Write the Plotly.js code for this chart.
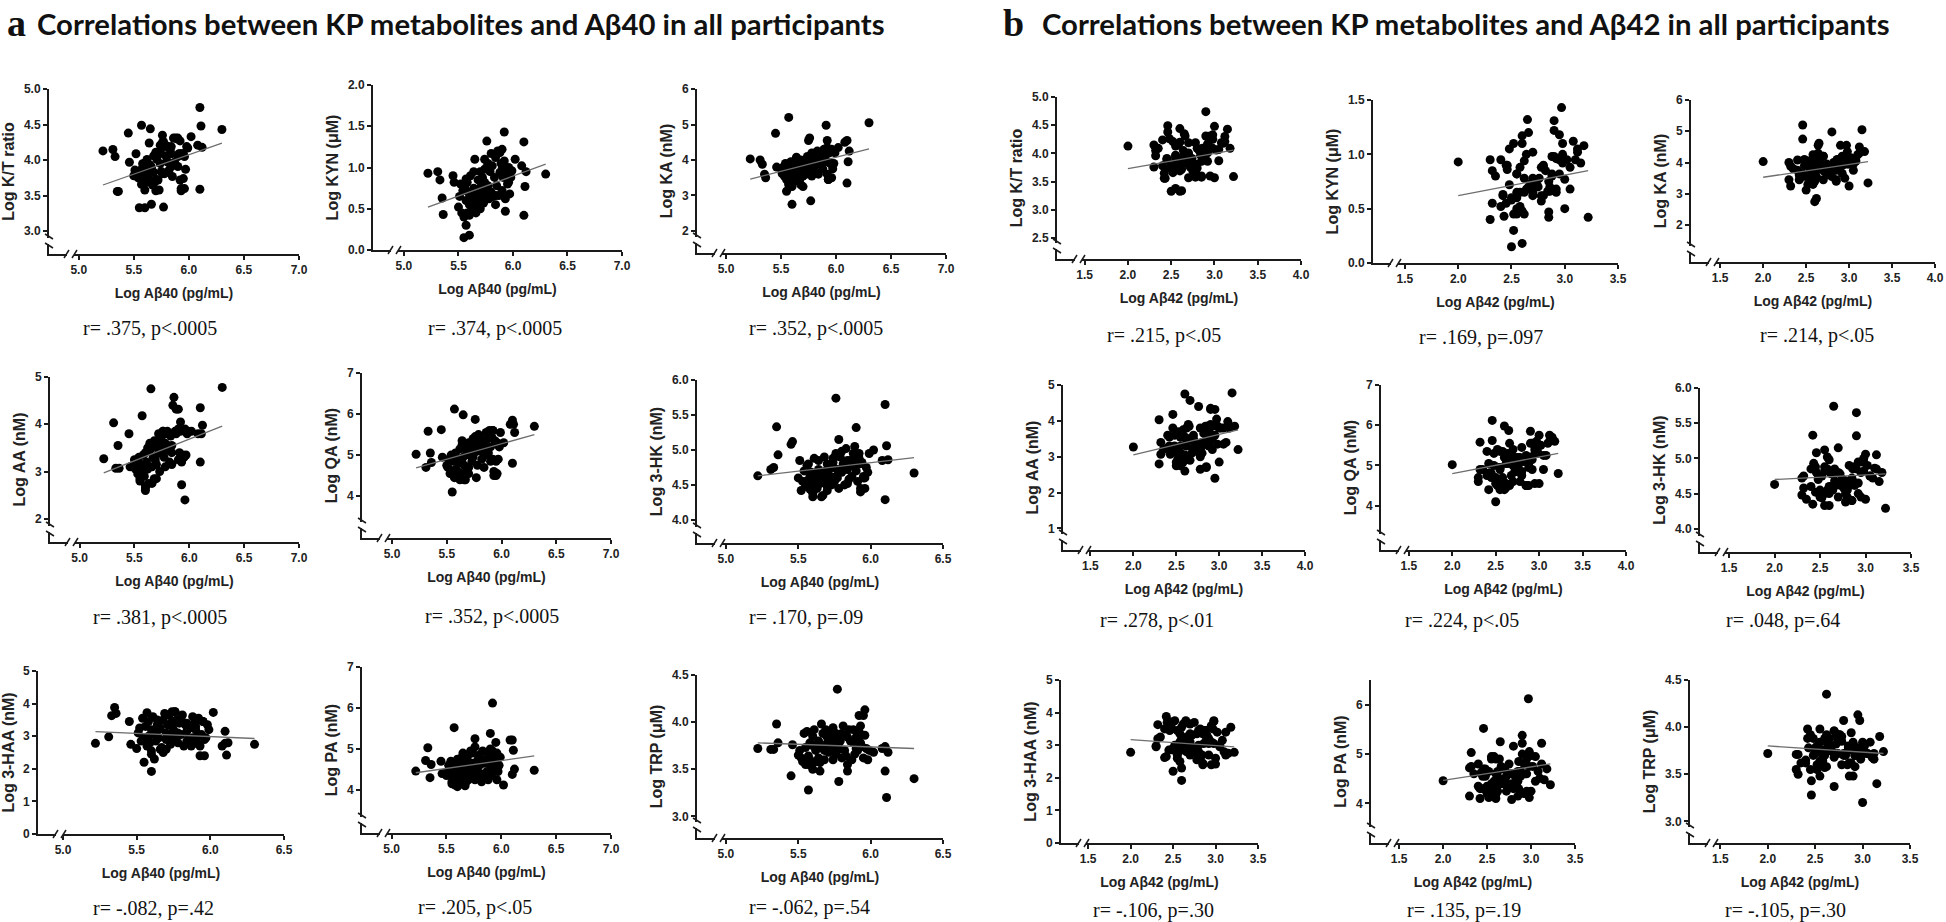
<!DOCTYPE html>
<html><head><meta charset="utf-8">
<script src="https://cdn.plot.ly/plotly-3.0.1.min.js"></script>
<style>html,body{margin:0;padding:0;background:#fff}#chart{width:1946px;height:922px}</style>
</head><body><div id="chart"></div>
<script>
// ---- Participant-level values (same participants in every panel) ----
const logAb40 = [5.22,6.30,5.31,5.33,5.35,5.36,5.45,5.46,5.57,5.65,
  6.10,6.11,6.12,6.08,6.10,6.02,5.93,5.92,5.76,5.90,
  5.55,5.60,5.57,5.66,5.77,5.96,5.95,5.78,5.84,
  5.50,5.51,5.52,5.53,5.54,5.55,5.56,5.57,5.58,5.58,
  5.59,5.60,5.60,5.61,5.62,5.62,5.63,5.64,5.65,5.66,
  5.67,5.68,5.68,5.69,5.70,5.70,5.71,5.72,5.72,5.73,
  5.74,5.74,5.75,5.76,5.76,5.77,5.78,5.79,5.80,5.80,
  5.81,5.82,5.83,5.84,5.85,5.86,5.87,5.88,5.88,5.89,
  5.90,5.90,5.91,5.92,5.92,5.93,5.94,5.95,5.96,5.97,
  5.98,5.99,5.60,5.64,5.70,5.74,5.84];
const logAb42 = [2.00,3.15,2.30,2.32,2.42,2.43,2.46,2.55,2.46,2.60,
  2.90,3.00,3.10,3.12,3.22,2.98,2.85,2.97,2.65,2.90,
  2.50,2.60,2.52,2.55,2.62,2.95,2.80,2.70,2.86,
  2.40,2.58,2.35,2.62,2.48,2.30,2.72,2.55,2.88,2.52,
  2.66,2.32,2.78,2.45,2.60,2.92,2.50,2.85,2.55,2.68,
  2.42,2.82,2.58,2.75,2.95,2.50,2.70,2.62,3.05,2.78,
  2.55,2.88,2.64,2.98,2.72,2.48,2.80,3.02,2.60,2.86,
  2.70,2.92,2.58,3.08,2.76,2.66,2.84,2.95,2.62,3.12,
  2.74,2.90,2.80,2.55,3.18,2.70,2.98,2.88,2.64,3.05,
  2.78,2.92,2.85,2.40,3.00,2.52,2.45];
const logKT = [4.13,4.43,4.15,4.05,3.56,3.56,4.38,3.97,4.49,4.44,
  4.74,4.48,4.18,4.21,3.59,4.33,3.60,4.27,4.35,4.31,
  3.33,3.33,3.66,3.38,3.34,3.60,3.74,4.19,4.09,
  3.78,3.86,4.09,3.78,3.75,3.76,3.76,3.87,3.95,3.76,
  3.85,3.96,3.68,3.89,3.69,4.01,3.77,3.86,3.93,3.90,
  3.65,4.06,3.83,3.69,4.11,3.73,4.01,3.72,4.07,3.58,
  4.13,3.95,3.84,4.25,3.81,4.26,3.81,4.06,4.20,3.99,
  3.97,3.86,4.15,4.19,3.77,4.31,3.97,4.31,3.93,4.30,
  3.91,4.05,4.09,3.72,4.09,3.57,4.09,4.09,4.05,3.87,
  4.19,4.17,3.58,4.24,3.57,4.21,3.91];
const logKYN = [0.93,0.92,0.95,0.85,0.63,0.43,0.90,0.82,0.86,1.10,
  1.31,0.77,0.95,1.02,0.42,1.10,0.47,1.43,1.32,1.22,
  0.15,0.18,0.30,0.45,0.78,0.82,0.90,0.65,0.66,
  0.52,0.65,0.80,0.45,0.72,0.40,0.75,0.60,0.82,0.45,
  0.70,0.55,0.62,0.90,0.48,0.68,0.58,0.75,0.50,0.73,
  0.62,0.85,0.52,0.70,0.95,0.60,0.78,0.65,0.88,0.57,
  0.82,0.98,0.68,1.00,0.72,1.05,0.62,0.95,1.17,0.70,
  1.02,0.65,0.88,1.12,0.78,1.20,0.66,1.18,0.94,1.05,
  0.72,0.98,0.88,0.65,1.08,0.62,0.92,0.80,1.00,0.68,
  0.88,0.96,0.42,0.95,0.50,1.10,0.55];
const logKA = [4.03,5.05,4.00,3.88,3.60,3.50,4.75,3.80,5.20,4.00,
  4.55,3.95,4.25,4.50,3.35,4.35,3.45,4.55,4.62,4.00,
  3.12,2.75,3.30,3.40,2.85,3.50,3.90,4.20,4.10,
  3.75,3.62,3.80,3.55,3.90,3.45,3.70,3.35,3.85,3.60,
  3.95,3.25,3.70,3.65,3.40,3.90,3.60,3.75,3.55,3.85,
  3.45,4.00,3.30,3.65,3.95,3.55,3.75,3.80,3.95,3.60,
  3.85,4.10,4.55,3.95,3.70,4.10,3.55,4.15,4.05,3.80,
  4.20,3.65,4.25,4.05,3.90,4.10,3.85,4.20,3.75,4.30,
  3.95,4.05,4.98,3.60,4.35,3.45,4.20,3.90,4.30,3.75,
  3.90,4.20,3.40,4.08,3.25,4.05,3.60];
const logAA = [3.27,4.78,4.03,3.07,3.55,3.07,3.80,3.10,4.18,4.75,
  4.35,3.80,3.98,3.80,3.20,3.85,2.72,4.05,3.85,4.32,
  2.85,2.60,2.95,2.75,3.30,2.40,3.30,3.60,3.55,
  3.25,3.05,3.20,2.95,3.30,2.80,3.15,3.00,3.35,3.10,
  2.90,3.40,2.65,3.20,3.05,3.50,2.75,3.45,3.55,3.10,
  3.30,3.65,2.85,3.25,3.60,3.15,3.50,3.40,3.80,3.00,
  3.55,3.70,3.50,3.85,3.35,3.60,3.10,3.80,3.55,3.85,
  3.45,3.20,3.75,3.40,4.40,4.57,3.85,4.32,3.80,3.85,
  3.25,3.90,3.40,3.30,3.85,3.20,3.35,3.30,3.90,3.35,
  3.80,3.85,2.70,3.60,2.85,3.70,3.15];
const logQA = [5.02,5.70,4.70,5.58,5.05,4.82,5.62,4.95,6.12,5.98,
  5.85,5.75,5.55,5.75,4.80,5.30,4.50,5.60,5.87,5.55,
  4.10,4.45,4.50,4.40,4.45,4.55,4.85,5.20,5.10,
  4.75,4.70,4.90,4.55,5.00,4.60,4.85,4.45,5.05,4.65,
  4.50,4.90,4.60,4.80,4.40,5.15,4.55,5.25,4.95,4.75,
  4.40,5.10,4.60,5.20,5.30,4.70,5.00,5.15,5.25,4.85,
  5.35,4.95,5.05,5.45,5.20,5.30,4.75,5.50,5.20,5.10,
  5.40,4.90,5.35,5.25,5.00,5.55,5.15,5.40,5.05,5.60,
  4.85,5.20,5.45,4.90,5.60,4.60,5.35,4.50,5.30,4.90,
  5.20,5.55,4.50,5.35,4.55,5.40,4.70];
const log3HK = [4.63,4.67,4.72,4.75,5.33,4.93,5.08,5.12,4.80,4.60,
  5.65,5.06,4.86,4.85,4.29,5.00,4.40,4.95,5.74,5.32,
  4.55,4.33,4.50,4.33,4.60,4.45,4.60,5.15,4.85,
  4.60,4.85,4.42,4.55,4.70,4.48,4.78,4.50,4.62,4.44,
  4.68,4.58,4.38,4.88,4.50,4.65,4.45,4.72,4.52,4.62,
  4.35,4.90,4.55,4.70,4.80,4.48,4.65,4.58,4.75,4.50,
  4.82,4.88,4.55,4.95,4.62,4.72,4.45,4.90,4.98,4.68,
  4.80,4.50,5.02,4.72,4.58,4.85,4.62,4.95,4.78,5.05,
  4.70,4.85,4.55,4.88,4.80,4.45,4.82,4.62,4.60,4.75,
  4.68,4.95,4.40,4.85,4.42,4.75,4.52];
const log3HAA = [2.78,2.75,2.98,3.63,3.88,3.70,3.45,2.75,3.72,3.20,
  3.15,2.42,2.80,2.70,2.78,3.73,2.40,3.50,3.75,3.30,
  2.20,1.92,2.90,2.60,3.00,2.40,3.45,3.10,3.40,
  2.62,3.10,3.25,2.85,3.55,2.95,3.30,2.70,3.45,3.00,
  2.80,3.20,2.55,3.60,2.30,3.05,2.85,3.35,2.95,3.25,
  2.65,3.50,2.50,3.70,3.10,2.90,3.35,3.65,3.00,2.75,
  3.45,3.30,3.20,3.75,2.95,3.50,2.80,3.40,3.55,3.05,
  3.65,2.70,3.35,3.15,2.90,3.25,2.70,3.60,2.95,3.40,
  2.85,3.20,3.00,2.75,3.55,2.70,3.05,3.45,2.90,2.95,
  3.35,3.20,2.45,3.50,2.60,3.75,2.85];
const logPA = [4.46,4.48,4.72,5.03,4.30,4.62,4.70,4.40,5.52,4.90,
  5.22,4.97,4.51,5.22,4.38,4.12,4.65,6.12,5.25,5.38,
  4.20,4.10,4.20,4.15,4.55,4.25,5.16,4.70,4.30,
  4.35,4.45,4.60,4.40,4.70,4.15,4.55,4.28,4.65,4.12,
  4.40,4.75,4.08,4.55,4.18,4.60,4.25,4.45,4.35,4.70,
  4.10,4.55,4.20,4.80,4.60,4.35,4.50,4.65,4.95,4.40,
  4.90,4.60,4.45,5.05,4.25,4.55,4.30,4.75,4.60,4.85,
  4.40,4.20,4.95,4.65,4.35,4.75,4.45,4.90,4.25,4.80,
  4.60,5.00,4.35,4.95,4.70,4.50,4.75,4.55,4.90,4.45,
  4.60,4.80,4.15,4.80,4.25,4.65,4.30];
const logTRP = [3.72,3.40,3.71,3.71,3.98,3.78,3.43,3.76,3.28,3.57,
  3.48,3.20,3.68,3.72,3.74,3.68,3.78,4.07,3.88,3.82,
  3.73,3.76,3.55,3.98,4.35,4.13,4.07,3.37,3.48,
  3.65,3.70,3.62,3.58,3.88,3.55,3.90,3.64,3.78,3.60,
  3.76,3.50,3.85,3.92,3.70,3.58,3.72,3.80,3.48,3.74,
  3.88,3.70,3.60,3.92,3.75,3.78,3.68,3.84,3.72,3.90,
  3.60,3.94,3.75,3.66,3.82,3.70,3.72,3.80,3.88,3.62,
  3.96,3.70,3.64,3.84,3.92,3.80,3.60,3.78,3.92,3.66,
  3.72,3.84,3.70,3.84,3.90,3.96,3.74,3.62,3.86,3.72,
  3.60,3.70,3.75,3.62,3.84,3.80,3.55];

// ---- Labels, statistics and regression-line end values ----
const yTitles = ['Log K/T ratio','Log KYN (μM)','Log KA (nM)','Log AA (nM)','Log QA (nM)',
                 'Log 3-HK (nM)','Log 3-HAA (nM)','Log PA (nM)','Log TRP (μM)'];
const xTitleAb40 = 'Log Aβ40 (pg/mL)';
const xTitleAb42 = 'Log Aβ42 (pg/mL)';
const rTextAb40 = ['r= .375, p<.0005','r= .374, p<.0005','r= .352, p<.0005',
                   'r= .381, p<.0005','r= .352, p<.0005','r= .170, p=.09',
                   'r= -.082, p=.42','r= .205, p<.05','r= -.062, p=.54'];
const rTextAb42 = ['r= .215, p<.05','r= .169, p=.097','r= .214, p<.05',
                   'r= .278, p<.01','r= .224, p<.05','r= .048, p=.64',
                   'r= -.106, p=.30','r= .135, p=.19','r= -.105, p=.30'];
const fitAb40Start = [3.65,0.52,3.46,2.97,4.69,4.63,3.14,4.42,3.78];
const fitAb40End   = [4.24,1.04,4.31,3.96,5.50,4.89,2.93,4.83,3.72];
const fitAb42Start = [3.73,0.62,3.53,3.05,4.80,4.70,3.17,4.47,3.80];
const fitAb42End   = [4.06,0.85,4.03,3.75,5.30,4.78,2.95,4.80,3.72];
const titleA = 'Correlations between KP metabolites and Aβ40 in all participants';
const titleB = 'Correlations between KP metabolites and Aβ42 in all participants';

// ---- Layout geometry (pixels) ----
const W = 1946, H = 922;
const xt40a = [5,5.5,6,6.5,7], xt40b = [5,5.5,6,6.5];
const xt42a = [1.5,2,2.5,3,3.5,4], xt42b = [1.5,2,2.5,3,3.5];
const boxesA = [
 {L:49, R:299,T:89, B:254,xr:[4.73,7.0], xt:xt40a,yr:[2.68,5.0],yt:[3,3.5,4,4.5,5],yf:'.1f',yb:true, ax:150,ay:328},
 {L:373,R:622,T:85, B:250,xr:[4.716,7.0],xt:xt40a,yr:[0,2],     yt:[0,0.5,1,1.5,2],yf:'.1f',yb:false,ax:495,ay:328},
 {L:697,R:946,T:89, B:253,xr:[4.736,7.0],xt:xt40a,yr:[1.38,6],  yt:[2,3,4,5,6],    yf:'d',  yb:true, ax:816,ay:328},
 {L:50, R:299,T:377,B:542,xr:[4.73,7.0], xt:xt40a,yr:[1.51,5],  yt:[2,3,4,5],      yf:'d',  yb:true, ax:160,ay:617},
 {L:362,R:611,T:373,B:538,xr:[4.726,7.0],xt:xt40a,yr:[2.98,7],  yt:[4,5,6,7],      yf:'d',  yb:true, ax:492,ay:616},
 {L:697,R:943,T:380,B:543,xr:[4.8,6.5],  xt:xt40b,yr:[3.67,6],  yt:[4,4.5,5,5.5,6],yf:'.1f',yb:true, ax:806,ay:617},
 {L:38, R:284,T:671,B:834,xr:[4.83,6.5], xt:xt40b,yr:[0,5],     yt:[0,1,2,3,4,5],  yf:'d',  yb:false,ax:153,ay:908},
 {L:362,R:611,T:667,B:833,xr:[4.73,7.0], xt:xt40a,yr:[2.95,7],  yt:[4,5,6,7],      yf:'d',  yb:true, ax:475,ay:907},
 {L:697,R:943,T:675,B:838,xr:[4.8,6.5],  xt:xt40b,yr:[2.77,4.5],yt:[3,3.5,4,4.5],  yf:'.1f',yb:true, ax:809,ay:907}
];
const boxesB = [
 {L:1057,R:1301,T:97, B:259,xr:[1.18,4.0],xt:xt42a,yr:[2.13,5],yt:[2.5,3,3.5,4,4.5,5],yf:'.1f',yb:true, ax:1164,ay:335},
 {L:1373,R:1618,T:100,B:263,xr:[1.2,3.5], xt:xt42b,yr:[0,1.5], yt:[0,0.5,1,1.5],     yf:'.1f',yb:false,ax:1481,ay:338},
 {L:1691,R:1935,T:100,B:262,xr:[1.16,4.0],xt:xt42a,yr:[0.82,6],yt:[2,3,4,5,6],       yf:'d',  yb:true, ax:1817,ay:335},
 {L:1063,R:1305,T:385,B:550,xr:[1.18,4.0],xt:xt42a,yr:[0.4,5], yt:[1,2,3,4,5],       yf:'d',  yb:true, ax:1157,ay:620},
 {L:1381,R:1626,T:385,B:550,xr:[1.18,4.0],xt:xt42a,yr:[2.9,7], yt:[4,5,6,7],         yf:'d',  yb:true, ax:1462,ay:620},
 {L:1700,R:1911,T:388,B:552,xr:[1.18,3.5],xt:xt42b,yr:[3.67,6],yt:[4,4.5,5,5.5,6],   yf:'.1f',yb:true, ax:1783,ay:620},
 {L:1061,R:1258,T:680,B:843,xr:[1.18,3.5],xt:xt42b,yr:[0,5],   yt:[0,1,2,3,4,5],     yf:'d',  yb:false,ax:1153,ay:910},
 {L:1371,R:1575,T:680,B:843,xr:[1.18,3.5],xt:xt42b,yr:[3.2,6.5],yt:[4,5,6],          yf:'d',  yb:true, ax:1464,ay:910},
 {L:1690,R:1910,T:680,B:843,xr:[1.18,3.5],xt:xt42b,yr:[2.77,4.5],yt:[3,3.5,4,4.5],   yf:'.1f',yb:true, ax:1785,ay:910}
];

const metabolites = [logKT, logKYN, logKA, logAA, logQA, log3HK, log3HAA, logPA, logTRP];
const panels = [];
for (let i = 0; i < 9; i++) panels.push({x: logAb40, y: metabolites[i], xTitle: xTitleAb40, yTitle: yTitles[i], r: rTextAb40[i], f0: fitAb40Start[i], f1: fitAb40End[i], box: boxesA[i]});
for (let i = 0; i < 9; i++) panels.push({x: logAb42, y: metabolites[i], xTitle: xTitleAb42, yTitle: yTitles[i], r: rTextAb42[i], f0: fitAb42Start[i], f1: fitAb42End[i], box: boxesB[i]});

const px = v => v / W, py = v => 1 - v / H;
const axisColor = '#1a1a1a';
const tickFont = {family: 'Liberation Sans, Arial, sans-serif', size: 12, weight: 'bold', color: '#222'};
const traces = [], shapes = [], annotations = [];
const layout = {
  width: W, height: H, margin: {l: 0, r: 0, t: 0, b: 0},
  paper_bgcolor: '#fff', plot_bgcolor: 'rgba(0,0,0,0)', showlegend: false
};

panels.forEach((p, k) => {
  const n = k + 1, sfx = n === 1 ? '' : String(n), b = p.box;
  traces.push({type: 'scatter', mode: 'markers', x: p.x, y: p.y, xaxis: 'x' + sfx, yaxis: 'y' + sfx,
    marker: {color: '#000', size: 9, line: {width: 0}}, hoverinfo: 'skip', cliponaxis: false});
  const xmin = Math.min(...p.x), xmax = Math.max(...p.x);
  traces.push({type: 'scatter', mode: 'lines', x: [xmin, xmax], y: [p.f0, p.f1], xaxis: 'x' + sfx, yaxis: 'y' + sfx,
    line: {color: '#6e6e6e', width: 1.3}, hoverinfo: 'skip'});
  const common = {showline: true, linecolor: axisColor, linewidth: 2, ticks: 'outside', ticklen: 4, tickwidth: 2,
    tickcolor: axisColor, showgrid: false, zeroline: false, tickfont: tickFont, fixedrange: true, tickmode: 'array'};
  layout['xaxis' + sfx] = Object.assign({}, common, {
    domain: [px(b.L), px(b.R)], anchor: 'y' + sfx, range: b.xr, tickvals: b.xt, tickformat: '.1f',
    title: {text: p.xTitle, standoff: 12, font: {family: 'Liberation Sans, Arial, sans-serif', size: 14, weight: 'bold', color: '#222'}}
  });
  layout['yaxis' + sfx] = Object.assign({}, common, {
    domain: [py(b.B), py(b.T)], anchor: 'x' + sfx, range: b.yr, tickvals: b.yt, tickformat: b.yf,
    title: {text: p.yTitle, standoff: 5, font: {family: 'Liberation Sans, Arial, sans-serif', size: 16, weight: 'bold', color: '#222'}}
  });
  annotations.push({xref: 'paper', yref: 'paper', x: px(b.ax), y: py(b.ay), xanchor: 'center', yanchor: 'middle',
    text: p.r, showarrow: false, font: {family: 'Liberation Serif, Times New Roman, serif', size: 20, color: '#111'}});
  // axis-break marks
  const seg = (x0, y0, x1, y1, color, w) => shapes.push({type: 'line', xref: 'paper', yref: 'paper',
    x0: px(x0), y0: py(y0), x1: px(x1), y1: py(y1), line: {color: color, width: w}});
  seg(b.L + 18, b.B, b.L + 25, b.B, '#fff', 5);
  seg(b.L + 15, b.B + 4, b.L + 20, b.B - 4, axisColor, 1.5);
  seg(b.L + 23, b.B + 4, b.L + 28, b.B - 4, axisColor, 1.5);
  if (b.yb) {
    seg(b.L, b.B - 16, b.L, b.B - 10, '#fff', 5);
    seg(b.L - 4, b.B - 20, b.L + 4, b.B - 15, axisColor, 1.5);
    seg(b.L - 4, b.B - 11, b.L + 4, b.B - 6, axisColor, 1.5);
  }
});

// panel titles
annotations.push({xref: 'paper', yref: 'paper', x: px(5), y: 1, xanchor: 'left', yanchor: 'top', showarrow: false,
  text: 'a', font: {family: 'Liberation Serif, Times New Roman, serif', size: 38, weight: 'bold', color: '#111'}});
annotations.push({xref: 'paper', yref: 'paper', x: px(35), y: py(23), xanchor: 'left', yanchor: 'middle', showarrow: false,
  text: titleA, font: {family: 'Lato, Liberation Sans, sans-serif', size: 29.3, weight: 'bold', color: '#111'}});
annotations.push({xref: 'paper', yref: 'paper', x: px(1001), y: 1, xanchor: 'left', yanchor: 'top', showarrow: false,
  text: 'b', font: {family: 'Liberation Serif, Times New Roman, serif', size: 38, weight: 'bold', color: '#111'}});
annotations.push({xref: 'paper', yref: 'paper', x: px(1040), y: py(23), xanchor: 'left', yanchor: 'middle', showarrow: false,
  text: titleB, font: {family: 'Lato, Liberation Sans, sans-serif', size: 29.3, weight: 'bold', color: '#111'}});

layout.shapes = shapes;
layout.annotations = annotations;
Plotly.newPlot('chart', traces, layout, {displayModeBar: false, staticPlot: true});
</script>
</body></html>
